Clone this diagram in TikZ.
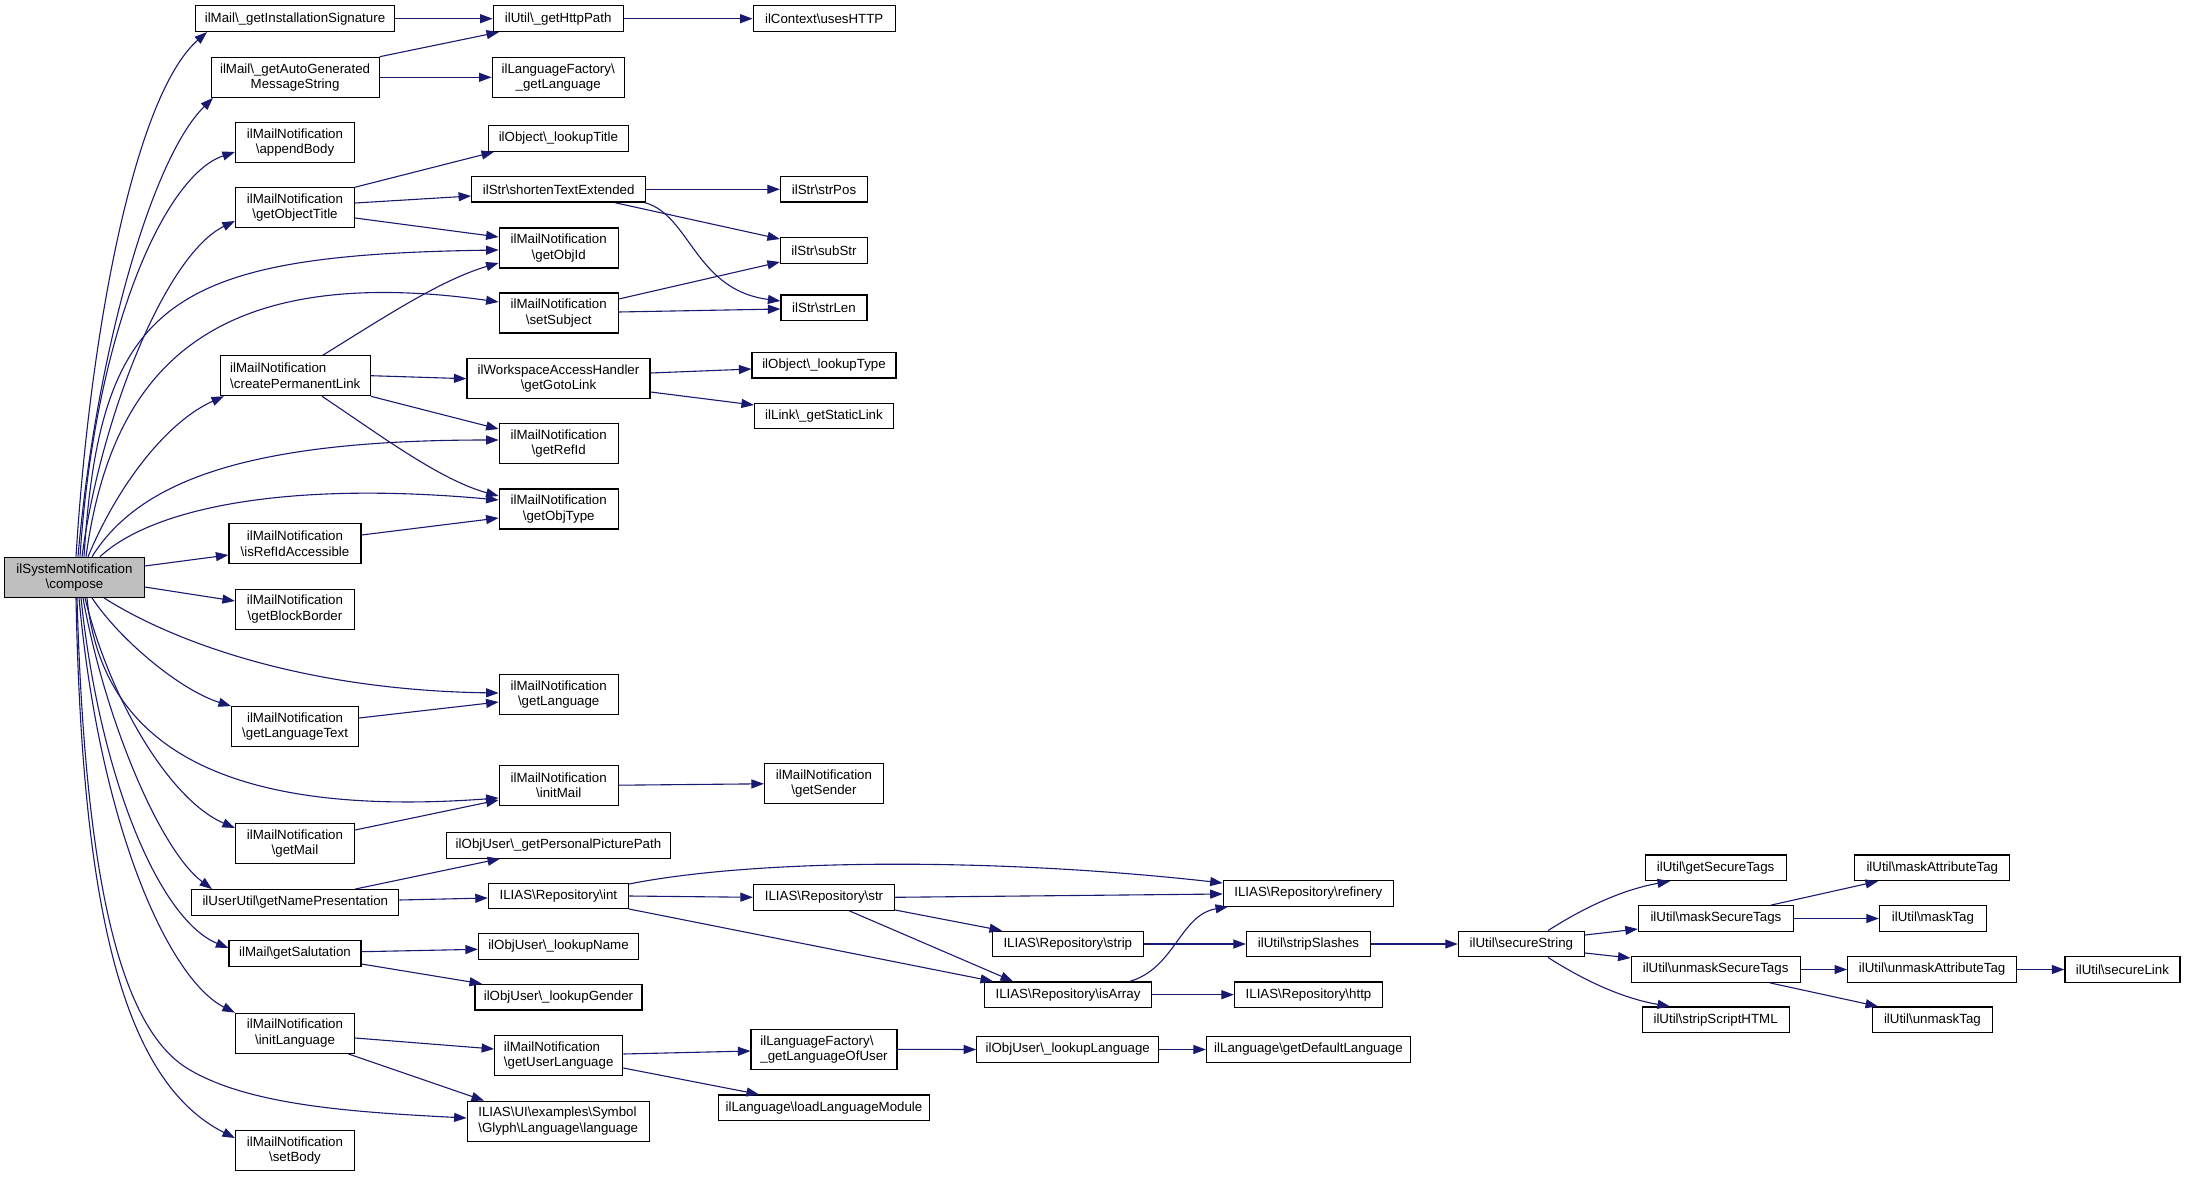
\documentclass[tikz,border=0pt]{standalone}
\usepackage{fontspec}
\setmainfont{Liberation Sans}
\usetikzlibrary{arrows.meta}
\definecolor{edgec}{HTML}{191970}
\definecolor{cgrey}{HTML}{BFBFBF}
\begin{document}
\begin{tikzpicture}[x=1pt,y=-1pt,
  box/.style={draw=black, line width=1.2pt, fill=white, inner sep=0pt, align=center,
    font=\fontsize{13.3}{15.3}\selectfont},
  bone/.style={box, minimum height=25.6pt},
  btwo/.style={box, minimum height=40pt},
  e/.style={draw=edgec, line width=1.1pt, -{Triangle[length=12.5pt,width=9pt]}}]
\useasboundingbox (0,0) rectangle (2185,1177);
\fill[white] (0,0) rectangle (2185,1177);
% nodes
\node[btwo, minimum width=139.3pt, fill=cgrey] (C) at (74.5,577.3) {ilSystemNotification\\\textbackslash compose};
\node[bone, minimum width=199pt] (gis) at (295,18.7) {ilMail\textbackslash\_getInstallationSignature};
\node[bone, minimum width=130pt] (ghp) at (558.2,18.7) {ilUtil\textbackslash\_getHttpPath};
\node[bone, minimum width=142pt] (uh) at (824.2,18.7) {ilContext\textbackslash usesHTTP};
\node[btwo, minimum width=168pt] (gag) at (295.1,77.3) {ilMail\textbackslash\_getAutoGenerated\\MessageString};
\node[btwo, minimum width=132pt] (lfgl) at (558.2,77.3) {ilLanguageFactory\textbackslash\\\_getLanguage};
\node[btwo, minimum width=119pt] (ab) at (295,142.5) {ilMailNotification\\\textbackslash appendBody};
\node[bone, minimum width=140pt] (lt) at (558.4,138.5) {ilObject\textbackslash\_lookupTitle};
\node[btwo, minimum width=119pt] (got) at (295,207.8) {ilMailNotification\\\textbackslash getObjectTitle};
\node[bone, minimum width=174pt] (ste) at (558.7,189.3) {ilStr\textbackslash shortenTextExtended};
\node[bone, minimum width=87pt] (sp) at (824,189.3) {ilStr\textbackslash strPos};
\node[btwo, minimum width=119pt] (goi) at (558.7,248) {ilMailNotification\\\textbackslash getObjId};
\node[bone, minimum width=87pt] (sub) at (824,250.5) {ilStr\textbackslash subStr};
\node[btwo, minimum width=119pt] (ss) at (558.7,313) {ilMailNotification\\\textbackslash setSubject};
\node[bone, minimum width=86pt] (sl) at (824,307.8) {ilStr\textbackslash strLen};
\node[btwo, minimum width=150pt, align=left] (cpl) at (295.3,375.7) {ilMailNotification\\\textbackslash createPermanentLink};
\node[btwo, minimum width=183pt] (ggl) at (558.5,378.7) {ilWorkspaceAccessHandler\\\textbackslash getGotoLink};
\node[bone, minimum width=144pt] (lty) at (824,365.2) {ilObject\textbackslash\_lookupType};
\node[bone, minimum width=139pt] (gsl) at (824,416) {ilLink\textbackslash\_getStaticLink};
\node[btwo, minimum width=119pt] (gri) at (558.7,443.7) {ilMailNotification\\\textbackslash getRefId};
\node[btwo, minimum width=119pt] (gotp) at (558.7,509) {ilMailNotification\\\textbackslash getObjType};
\node[btwo, minimum width=132pt] (ira) at (295,543.8) {ilMailNotification\\\textbackslash isRefIdAccessible};
\node[btwo, minimum width=119pt] (gbb) at (295,609.2) {ilMailNotification\\\textbackslash getBlockBorder};
\node[btwo, minimum width=119pt] (gl) at (558.7,694.3) {ilMailNotification\\\textbackslash getLanguage};
\node[btwo, minimum width=127pt] (glt) at (295.1,726.7) {ilMailNotification\\\textbackslash getLanguageText};
\node[btwo, minimum width=119pt] (im) at (558.7,785.2) {ilMailNotification\\\textbackslash initMail};
\node[btwo, minimum width=119pt] (gsnd) at (824,783.8) {ilMailNotification\\\textbackslash getSender};
\node[btwo, minimum width=119pt] (gm) at (295,843.8) {ilMailNotification\\\textbackslash getMail};
\node[bone, minimum width=224pt] (gpp) at (558.5,845.3) {ilObjUser\textbackslash\_getPersonalPicturePath};
\node[bone, minimum width=207pt] (gnp) at (295.3,902.5) {ilUserUtil\textbackslash getNamePresentation};
\node[bone, minimum width=140pt] (rint) at (558.4,896) {ILIAS\textbackslash Repository\textbackslash int};
\node[bone, minimum width=141pt] (rstr) at (824,897.3) {ILIAS\textbackslash Repository\textbackslash str};
\node[bone, minimum width=170pt] (ref) at (1308.3,893.3) {ILIAS\textbackslash Repository\textbackslash refinery};
\node[bone, minimum width=151pt] (strip) at (1067.8,944) {ILIAS\textbackslash Repository\textbackslash strip};
\node[bone, minimum width=124pt] (ssl) at (1308.5,944) {ilUtil\textbackslash stripSlashes};
\node[bone, minimum width=167pt] (isa) at (1068,994.7) {ILIAS\textbackslash Repository\textbackslash isArray};
\node[bone, minimum width=148pt] (http) at (1308.5,994.7) {ILIAS\textbackslash Repository\textbackslash http};
\node[bone, minimum width=132pt] (gs) at (295,953.3) {ilMail\textbackslash getSalutation};
\node[bone, minimum width=160pt] (ln) at (558.5,946.5) {ilObjUser\textbackslash\_lookupName};
\node[bone, minimum width=167pt] (lg) at (558.5,997.2) {ilObjUser\textbackslash\_lookupGender};
\node[btwo, minimum width=119pt] (il) at (295,1033.2) {ilMailNotification\\\textbackslash initLanguage};
\node[btwo, minimum width=128pt, align=left] (gul) at (558.7,1055.8) {ilMailNotification\\\textbackslash getUserLanguage};
\node[btwo, minimum width=146pt, align=left] (glou) at (824,1049.3) {ilLanguageFactory\textbackslash\\\_getLanguageOfUser};
\node[bone, minimum width=211pt] (llm) at (824,1107.8) {ilLanguage\textbackslash loadLanguageModule};
\node[bone, minimum width=182pt] (llang) at (1067.8,1049.5) {ilObjUser\textbackslash\_lookupLanguage};
\node[bone, minimum width=204pt] (gdl) at (1308.5,1049.5) {ilLanguage\textbackslash getDefaultLanguage};
\node[btwo, minimum width=182pt, align=left] (ui) at (558.2,1121.2) {ILIAS\textbackslash UI\textbackslash examples\textbackslash Symbol\\\textbackslash Glyph\textbackslash Language\textbackslash language};
\node[btwo, minimum width=119pt] (sb) at (295,1150.5) {ilMailNotification\\\textbackslash setBody};
\node[bone, minimum width=126pt] (sec) at (1521.4,944) {ilUtil\textbackslash secureString};
\node[bone, minimum width=141pt] (gst) at (1715.6,867.8) {ilUtil\textbackslash getSecureTags};
\node[bone, minimum width=155pt] (mst) at (1715.9,918.5) {ilUtil\textbackslash maskSecureTags};
\node[bone, minimum width=169pt] (ust) at (1715.6,969.5) {ilUtil\textbackslash unmaskSecureTags};
\node[bone, minimum width=147pt] (ssh) at (1715.6,1019.8) {ilUtil\textbackslash stripScriptHTML};
\node[bone, minimum width=155pt] (mat) at (1932.3,867.8) {ilUtil\textbackslash maskAttributeTag};
\node[bone, minimum width=107pt] (mt) at (1932.9,918.5) {ilUtil\textbackslash maskTag};
\node[bone, minimum width=169pt] (uat) at (1932.1,969.5) {ilUtil\textbackslash unmaskAttributeTag};
\node[bone, minimum width=120pt] (ut) at (1932.4,1019.8) {ilUtil\textbackslash unmaskTag};
\node[bone, minimum width=115pt] (slk) at (2122.4,969.5) {ilUtil\textbackslash secureLink};
% edges from compose (upwards)
\draw[e] (C.north -| 76,0) .. controls (90,330) and (135,95) .. (gis.south -| 207,0);
\draw[e] (C.north -| 78,0) .. controls (95,360) and (150,160) .. (gag.south -| 213,0);
\draw[e] (C.north -| 80,0) .. controls (95,330) and (165,175) .. (ab.west |- 0,152);
\draw[e] (C.north -| 82,0) .. controls (100,420) and (165,255) .. (got.west |- 0,221);
\draw[e] (C.north -| 84,0) .. controls (100,300) and (170,255) .. (goi.west |- 0,250);
\draw[e] (C.north -| 86,0) .. controls (110,380) and (200,260) .. (ss.west |- 0,302);
\draw[e] (C.north -| 88,0) .. controls (120,480) and (170,420) .. (cpl.south -| 224,0);
\draw[e] (C.north -| 92,0) .. controls (140,480) and (250,440) .. (gri.west |- 0,440);
\draw[e] (C.north -| 100,0) .. controls (150,510) and (280,480) .. (gotp.west |- 0,500);
\draw[e] (C.east |- 0,566) -- (ira.west |- 0,555);
\draw[e] (C.east |- 0,587) -- (gbb.west |- 0,601);
% edges from compose (downwards)
\draw[e] (C.south -| 104,0) .. controls (170,640) and (300,690) .. (gl.west |- 0,693);
\draw[e] (C.south -| 92,0) .. controls (120,640) and (180,690) .. (glt.north west);
\draw[e] (C.south -| 87,0) .. controls (100,730) and (200,820) .. (im.west |- 0,798);
\draw[e] (C.south -| 85,0) .. controls (110,700) and (170,800) .. (gm.west |- 0,828);
\draw[e] (C.south -| 83,0) .. controls (105,720) and (160,850) .. (gnp.north -| 212,0);
\draw[e] (C.south -| 81,0) .. controls (100,780) and (160,920) .. (gs.west |- 0,948);
\draw[e] (C.south -| 79,0) .. controls (100,830) and (170,980) .. (il.north west);
\draw[e] (C.south -| 77,0) .. controls (85,880) and (120,1030) .. (190,1070) .. controls (250,1105) and (350,1112) .. (ui.west |- 0,1118);
\draw[e] (C.south -| 76,0) .. controls (82,900) and (120,1080) .. (sb.west |- 0,1138);
% other edges
\draw[e] (gis.east) -- (ghp.west);
\draw[e] (gag.north east) -- (ghp.south -| 499,0);
\draw[e] (gag.east) -- (lfgl.west);
\draw[e] (ghp.east) -- (uh.west);
\draw[e] (got.north east) -- (lt.south -| 494,0);
\draw[e] (got.east |- 0,203) -- (ste.west |- 0,196);
\draw[e] (got.east |- 0,218) -- (goi.west |- 0,237);
\draw[e] (cpl.north -| 323,0) .. controls (380,320) and (440,280) .. (goi.west |- 0,263);
\draw[e] (cpl.east) -- (ggl.west);
\draw[e] (cpl.south east) -- (gri.west |- 0,429);
\draw[e] (cpl.south -| 322,0) .. controls (380,435) and (440,480) .. (gotp.west |- 0,496);
\draw[e] (ira.east |- 0,535) -- (gotp.west |- 0,518);
\draw[e] (ste.east) -- (sp.west);
\draw[e] (ste.south -| 615,0) -- (sub.west |- 0,239);
\draw[e] (ste.south -| 645,0) .. controls (690,215) and (695,290) .. (sl.west |- 0,301);
\draw[e] (ss.east |- 0,299) -- (sub.west |- 0,262);
\draw[e] (ss.east |- 0,312) -- (sl.west |- 0,309);
\draw[e] (ggl.east |- 0,373) -- (lty.west |- 0,369);
\draw[e] (ggl.east |- 0,392) -- (gsl.west |- 0,405);
\draw[e] (glt.east |- 0,718) -- (gl.west |- 0,702);
\draw[e] (im.east) -- (gsnd.west);
\draw[e] (gm.east |- 0,830) -- (im.west |- 0,800);
\draw[e] (gnp.north -| 355,0) -- (gpp.south -| 500,0);
\draw[e] (gnp.east |- 0,900) -- (rint.west |- 0,898);
\draw[e] (rint.east |- 0,884) .. controls (760,858) and (1000,858) .. (ref.west |- 0,883);
\draw[e] (rint.east) -- (rstr.west);
\draw[e] (rint.east |- 0,909) -- (isa.north -| 993,0);
\draw[e] (rstr.east) -- (ref.west |- 0,894);
\draw[e] (rstr.east |- 0,910) -- (strip.north -| 1002,0);
\draw[e] (rstr.south -| 849,0) -- (isa.north -| 1013,0);
\draw[e] (strip.east) -- (ssl.west);
\draw[e] (isa.north -| 1130,0) .. controls (1175,968) and (1180,915) .. (ref.south -| 1228,0);
\draw[e] (isa.east) -- (http.west);
\draw[e] (ssl.east) -- (sec.west);
\draw[e] (gs.east |- 0,951.7) -- (ln.west |- 0,949.3);
\draw[e] (gs.east |- 0,964) -- (lg.north -| 482,0);
\draw[e] (il.east |- 0,1038) -- (gul.west |- 0,1049);
\draw[e] (il.south -| 348,0) -- (ui.north -| 484,0);
\draw[e] (gul.east |- 0,1054) -- (glou.west |- 0,1051);
\draw[e] (gul.east |- 0,1068) -- (llm.north -| 759,0);
\draw[e] (glou.east) -- (llang.west);
\draw[e] (llang.east) -- (gdl.west);
\draw[e] (sec.north -| 1548,0) .. controls (1580,910) and (1620,890) .. (gst.south -| 1670,0);
\draw[e] (sec.east |- 0,935) -- (mst.west |- 0,929);
\draw[e] (sec.east |- 0,953) -- (ust.west |- 0,958);
\draw[e] (sec.south -| 1548,0) .. controls (1580,978) and (1620,998) .. (ssh.north -| 1670,0);
\draw[e] (mst.north -| 1771,0) -- (mat.south -| 1878,0);
\draw[e] (mst.east) -- (mt.west);
\draw[e] (ust.east) -- (uat.west);
\draw[e] (ust.south -| 1770,0) -- (ut.north -| 1878,0);
\draw[e] (uat.east) -- (slk.west);
\end{tikzpicture}
\end{document}
